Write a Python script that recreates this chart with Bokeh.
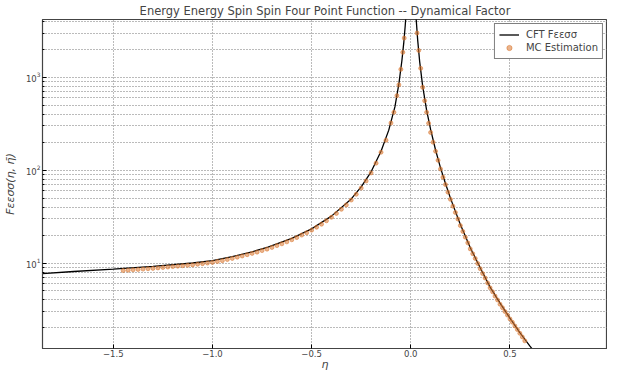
from bokeh.plotting import figure
from bokeh.models import FixedTicker, Legend, LegendItem, Range1d
from bokeh.embed import file_html
from bokeh.resources import INLINE

# CFT curve F_eess(eta)
cft_eta = [-1.857, -1.7, -1.5, -1.3, -1.1, -1.0, -0.9, -0.8, -0.72, -0.6, -0.5, -0.4,
           -0.3, -0.25, -0.2, -0.15, -0.111, -0.08, -0.06, -0.045, -0.035, -0.028, -0.022,
           None,
           0.022, 0.027, 0.035, 0.045, 0.06, 0.08, 0.1, 0.125, 0.15, 0.175, 0.2, 0.225,
           0.25, 0.275, 0.3, 0.35, 0.4, 0.45, 0.5, 0.55, 0.6, 0.64]
cft_F = [7.7, 8.1, 8.6, 9.2, 10.0, 10.6, 11.7, 13.2, 14.8, 18.4, 23.3, 32.0,
         49.0, 66.0, 96.0, 160.0, 270.0, 480.0, 850.0, 1500.0, 2400.0, 3600.0, 5500.0,
         None,
         6000.0, 4300.0, 2500.0, 1470.0, 805.0, 440.0, 275.0, 165.0, 106.0, 72.0, 50.0, 36.0,
         26.0, 19.5, 14.6, 8.9, 5.5, 3.7, 2.55, 1.78, 1.28, 1.0]

# Monte Carlo estimation points
mc_eta = [-1.45, -1.425, -1.40, -1.375, -1.35, -1.325, -1.30, -1.275, -1.25, -1.225,
          -1.20, -1.175, -1.15, -1.125, -1.10, -1.075, -1.05, -1.025, -1.00, -0.975,
          -0.95, -0.925, -0.90, -0.875, -0.85, -0.825, -0.80, -0.775, -0.75, -0.725,
          -0.70, -0.675, -0.65, -0.625, -0.60, -0.575, -0.55, -0.525, -0.50, -0.475,
          -0.45, -0.425, -0.40, -0.375, -0.35, -0.325, -0.30, -0.275, -0.25, -0.225,
          -0.20, -0.175, -0.15, -0.125, -0.10, -0.085, -0.07, -0.06, -0.05, -0.04,
          -0.033,
          0.032, 0.04, 0.05, 0.06, 0.07, 0.08, 0.09, 0.10, 0.1125, 0.125,
          0.1375, 0.15, 0.1625, 0.175, 0.1875, 0.20, 0.2125, 0.225, 0.2375, 0.25,
          0.2625, 0.275, 0.2875, 0.30, 0.3125, 0.325, 0.3375, 0.35, 0.3625, 0.375,
          0.3875, 0.40, 0.4125, 0.425, 0.4375, 0.45, 0.4625, 0.475, 0.4875, 0.50,
          0.5125, 0.525, 0.5375, 0.55, 0.5625, 0.575]
mc_F = [8.3, 8.37, 8.45, 8.52, 8.6, 8.68, 8.75, 8.85, 8.95, 9.05,
        9.15, 9.25, 9.35, 9.45, 9.55, 9.7, 9.85, 10.0, 10.15, 10.4,
        10.6, 10.9, 11.2, 11.55, 11.9, 12.3, 12.7, 13.1, 13.6, 14.1,
        14.7, 15.4, 16.1, 16.9, 17.8, 18.8, 20.0, 21.2, 22.6, 24.3,
        26.2, 28.5, 31.1, 34.2, 37.9, 42.3, 47.7, 55.0, 64.2, 76.5,
        93.5, 119.0, 156.0, 210.0, 322.0, 420.0, 635.0, 830.0, 1220.0, 1860.0,
        2650.0,
        3000.0, 1950.0, 1250.0, 780.0, 560.0, 420.0, 320.0, 255.0, 200.0, 160.0,
        128.0, 103.0, 84.0, 70.0, 58.0, 48.5, 41.0, 35.0, 29.8, 25.3,
        21.9, 19.0, 16.5, 14.2, 12.6, 11.2, 9.9, 8.7, 7.7, 6.9,
        6.1, 5.4, 4.9, 4.4, 4.0, 3.6, 3.3, 3.0, 2.75, 2.5,
        2.3, 2.1, 1.92, 1.75, 1.6, 1.45]

x_ticks = [-1.5, -1.0, -0.5, 0.0, 0.5]
x_tick_labels = ["\u22121.5", "\u22121.0", "\u22120.5", "0.0", "0.5"]
y_major = [10, 100, 1000]
y_minor = [m * d for d in (1, 10, 100, 1000) for m in range(2, 10)]

FONT = "DejaVu Sans"

p = figure(width=607, height=373, y_axis_type="log",
           x_range=Range1d(-1.857, 0.992), y_range=Range1d(1.2, 4200),
           output_backend="svg", toolbar_location=None,
           title="Energy Energy Spin Spin Four Point Function -- Dynamical Factor",
           min_border_left=38, min_border_right=0, min_border_top=15, min_border_bottom=24)

p.title.align = "center"
p.title.text_font = FONT
p.title.text_font_size = "11.5px"
p.title.text_font_style = "normal"
p.title.standoff = 3
p.outline_line_color = "#444444"
p.outline_line_width = 1.2

cft_line = p.line(cft_eta, cft_F, line_color="black", line_width=1.3)
mc_pts = p.scatter(mc_eta, mc_F, size=4, fill_color="#d9772f", line_color="#d9772f",
                   fill_alpha=0.55, line_alpha=0.55)

p.xaxis.ticker = FixedTicker(ticks=x_ticks)
p.xaxis.major_label_overrides = dict(zip(x_ticks, x_tick_labels))
p.yaxis.ticker = FixedTicker(ticks=y_major, minor_ticks=y_minor)

for ax in (p.xaxis[0], p.yaxis[0]):
    ax.axis_line_color = "#444444"
    ax.major_tick_in = 4
    ax.major_tick_out = 0
    ax.minor_tick_in = 2
    ax.minor_tick_out = 0
    ax.major_tick_line_color = "black"
    ax.minor_tick_line_color = "black"
    ax.major_label_text_font = FONT
    ax.major_label_text_font_size = "8.5px"
    ax.major_label_standoff = 2
    ax.axis_label_text_font = FONT
    ax.axis_label_text_font_style = "italic"
    ax.axis_label_text_font_size = "11px"
    ax.axis_label_standoff = 1

p.xaxis.axis_label = "\u03b7"
p.xaxis.major_label_standoff = 1
p.xaxis.axis_label_standoff = -2
p.xaxis.major_label_text_line_height = 1.0
p.xaxis.axis_label_text_line_height = 0.9
p.yaxis.axis_label = "F\u03b5\u03b5\u03c3\u03c3(\u03b7, \u03b7\u0304)"
p.yaxis.axis_label_standoff = 6
p.xaxis.minor_tick_line_color = None

for g in (p.xgrid[0], p.ygrid[0]):
    g.grid_line_color = "#777777"
    g.grid_line_dash = "1 2"
    g.grid_line_width = 1
p.ygrid.minor_grid_line_color = "#777777"
p.ygrid.minor_grid_line_dash = "1 2"

legend = Legend(items=[LegendItem(label="CFT F\u03b5\u03b5\u03c3\u03c3", renderers=[cft_line]),
                       LegendItem(label="MC Estimation", renderers=[mc_pts])],
                location="top_right")
legend.label_text_font = FONT
legend.label_text_font_size = "10px"
legend.border_line_color = "black"
legend.border_line_width = 1
legend.background_fill_alpha = 1
legend.margin = 4
legend.padding = 4
legend.spacing = 0
legend.glyph_width = 20
legend.label_standoff = 7
legend.label_height = 13
legend.glyph_height = 13
p.add_layout(legend)

open("out.html", "w").write(file_html(p, INLINE))
